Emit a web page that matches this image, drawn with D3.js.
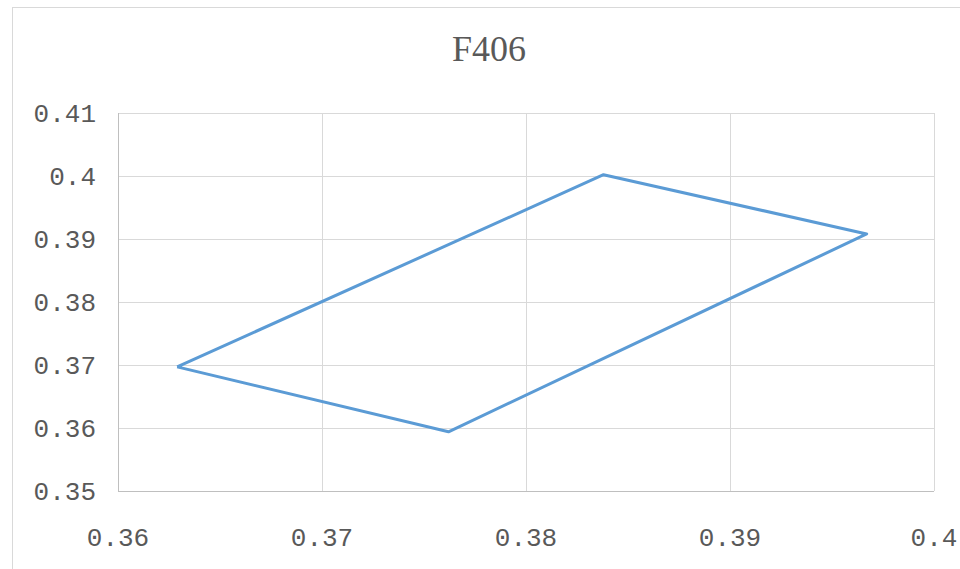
<!DOCTYPE html>
<html>
<head>
<meta charset="utf-8">
<script src="https://cdn.jsdelivr.net/npm/d3@7"></script>
<style>
  html, body { margin: 0; padding: 0; background: #fff; }
</style>
</head>
<body>
<div id="chart"></div>
<script>
// data
const title = "F406";
const xValues = [0.3629, 0.3838, 0.3967, 0.3762, 0.3629];
const yValues = [0.3697, 0.4002, 0.3908, 0.3594, 0.3697];
const xTicks = [0.36, 0.37, 0.38, 0.39, 0.40];
const yTicks = [0.35, 0.36, 0.37, 0.38, 0.39, 0.40, 0.41];

const width = 960;
const height = 569;

const svg = d3.select("#chart").append("svg")
  .attr("width", width)
  .attr("height", height);

// chart frame
svg.append("rect")
  .attr("x", 12.5).attr("y", 7.5)
  .attr("width", 960).attr("height", 580)
  .attr("fill", "#fff")
  .attr("stroke", "#d9d9d9");

const x = d3.scaleLinear().domain([0.36, 0.40]).range([118, 934]);
const y = d3.scaleLinear().domain([0.35, 0.41]).range([491, 113]);

const fmt = d => String(+d.toFixed(2));
const font = "'Liberation Mono', 'DejaVu Sans Mono', monospace";

// gridlines
svg.append("g").selectAll("line").data(xTicks.slice(1)).enter().append("line")
  .attr("x1", d => Math.round(x(d)) + 0.5).attr("x2", d => Math.round(x(d)) + 0.5)
  .attr("y1", y(0.41)).attr("y2", y(0.35))
  .attr("stroke", "#d9d9d9");
svg.append("g").selectAll("line").data(yTicks.slice(1)).enter().append("line")
  .attr("x1", x(0.36)).attr("x2", x(0.40))
  .attr("y1", d => Math.round(y(d)) + 0.5).attr("y2", d => Math.round(y(d)) + 0.5)
  .attr("stroke", "#d9d9d9");

// axis lines
svg.append("line")
  .attr("x1", x(0.36) + 0.5).attr("x2", x(0.36) + 0.5)
  .attr("y1", y(0.41)).attr("y2", y(0.35))
  .attr("stroke", "#bfbfbf");
svg.append("line")
  .attr("x1", x(0.36)).attr("x2", x(0.40))
  .attr("y1", Math.round(y(0.35)) + 0.5).attr("y2", Math.round(y(0.35)) + 0.5)
  .attr("stroke", "#bfbfbf");

// tick labels
svg.append("g").selectAll("text").data(yTicks).enter().append("text")
  .attr("x", 96)
  .attr("y", d => y(d))
  .attr("dy", "0.35em")
  .attr("text-anchor", "end")
  .attr("font-family", font)
  .attr("font-size", 26)
  .attr("fill", "#595959")
  .text(fmt);

svg.append("g").selectAll("text").data(xTicks).enter().append("text")
  .attr("x", d => x(d))
  .attr("y", 537)
  .attr("dy", "0.35em")
  .attr("text-anchor", "middle")
  .attr("font-family", font)
  .attr("font-size", 26)
  .attr("fill", "#595959")
  .text(fmt);

// title
svg.append("text")
  .attr("x", 489)
  .attr("y", 48)
  .attr("dy", "0.35em")
  .attr("text-anchor", "middle")
  .attr("font-family", "'Liberation Serif', serif")
  .attr("font-size", 36)
  .attr("fill", "#595959")
  .text(title);

// series
const pts = xValues.map((v, i) => [v, yValues[i]]);
const line = d3.line().x(d => x(d[0])).y(d => y(d[1]));
svg.append("path")
  .attr("d", line(pts))
  .attr("fill", "none")
  .attr("stroke", "#5b9bd5")
  .attr("stroke-width", 3)
  .attr("stroke-linejoin", "round");
</script>
</body>
</html>
